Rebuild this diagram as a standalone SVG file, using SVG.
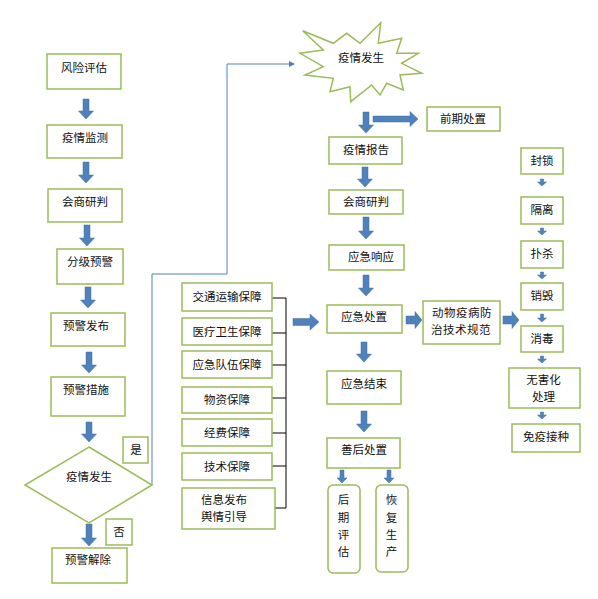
<svg xmlns="http://www.w3.org/2000/svg" width="598" height="599" viewBox="0 0 598 599">
<style>
.b{fill:#fff;stroke:#9BBB59;stroke-width:1.5}
.t{font-family:"Noto Sans CJK SC","Noto Sans",sans-serif;font-size:11.5px;fill:#111;text-anchor:middle}
.a{fill:#4F81BD;stroke:#41719C;stroke-width:0.5}
.k{fill:none;stroke:#000;stroke-width:1}
.c{fill:none;stroke:#4F81BD;stroke-width:1}
</style>
<defs>
<marker id="m" markerWidth="6" markerHeight="6" refX="5" refY="3" orient="auto" markerUnits="userSpaceOnUse">
<path d="M0,0 L6,3 L0,6 Z" fill="#4F81BD"/>
</marker>
</defs>
<rect width="598" height="599" fill="#fff"/>

<g id="connectors">
<path class="c" d="M152,485 V274 H227 V64 H294" marker-end="url(#m)"/>
<path class="k" d="M272,298 H286 M272,333 H286 M272,365 H286 M272,398 H286 M272,433 H286 M272,466 H286 M275,508 H286 M286,298 V508"/>
<path class="a" d="M83 99H89V111H93.5L86 119L78.5 111H83Z"/>
<path class="a" d="M83 162H89V175H93.5L86 183L78.5 175H83Z"/>
<path class="a" d="M84 225H90V238H94.5L87 246L79.5 238H84Z"/>
<path class="a" d="M85 287H91V300H95.5L88 308L80.5 300H85Z"/>
<path class="a" d="M86 352H92V365H96.5L89 373L81.5 365H86Z"/>
<path class="a" d="M86 422H92V434H96.5L89 442L81.5 434H86Z"/>
<path class="a" d="M86 524H92V538H96.5L89 546L81.5 538H86Z"/>
<path class="a" d="M363 112H369V125H373.5L366 133L358.5 125H363Z"/>
<path class="a" d="M362 167H368V179H372.5L365 187L357.5 179H362Z"/>
<path class="a" d="M363 217H369V231H373.5L366 239L358.5 231H363Z"/>
<path class="a" d="M363 275H369V288H373.5L366 296L358.5 288H363Z"/>
<path class="a" d="M361 342H367V354H371.5L364 362L356.5 354H361Z"/>
<path class="a" d="M361 411H367V424H371.5L364 432L356.5 424H361Z"/>
<path class="a" d="M340 470H344V478H347L342 483L337 478H340Z"/>
<path class="a" d="M387 470H391V478H394L389 483L384 478H387Z"/>
<path class="a" d="M540.5 179H543.5V182H546.5L542 186L537.5 182H540.5Z"/>
<path class="a" d="M540.5 228H543.5V231H546.5L542 235L537.5 231H540.5Z"/>
<path class="a" d="M540.5 272H543.5V275H546.5L542 279L537.5 275H540.5Z"/>
<path class="a" d="M540.5 314H543.5V318H546.5L542 322L537.5 318H540.5Z"/>
<path class="a" d="M540.5 356H543.5V359H546.5L542 363L537.5 359H540.5Z"/>
<path class="a" d="M540.5 412H543.5V415H546.5L542 419L537.5 415H540.5Z"/>
<path class="a" d="M373 116V122H410V126.5L418 119L410 111.5V116Z"/>
<path class="a" d="M293 318.5V325.5H310V330L319 322L310 314V318.5Z"/>
<path class="a" d="M406 316V324H415V328.5L422 320L415 311.5V316Z"/>
<path class="a" d="M503 316V324H512V328.5L519 320L512 311.5V316Z"/>
</g>

<g id="n-fxpg"><rect class="b" x="47" y="54" width="74" height="35"/><text class="t" x="84" y="72">风险评估</text></g>
<g id="n-yqjc"><rect class="b" x="47" y="125" width="75" height="33"/><text class="t" x="85" y="142">疫情监测</text></g>
<g id="n-hsyp1"><rect class="b" x="48" y="189" width="74" height="33"/><text class="t" x="85" y="206">会商研判</text></g>
<g id="n-fjyj"><rect class="b" x="57" y="249" width="66" height="35"/><text class="t" x="90" y="266">分级预警</text></g>
<g id="n-yjfb"><rect class="b" x="51" y="313" width="74" height="33"/><text class="t" x="86" y="330">预警发布</text></g>
<g id="n-yjcs"><rect class="b" x="51" y="377" width="74" height="39"/><text class="t" x="86" y="394">预警措施</text></g>
<g id="n-yqfs1"><polygon class="b" points="89,447 152,485 89,523 25,485"/><text class="t" x="89" y="481">疫情发生</text></g>
<g id="n-shi"><rect class="b" x="123" y="437" width="25" height="26"/><text class="t" x="136" y="454">是</text></g>
<g id="n-fou"><rect class="b" x="106" y="519" width="26" height="26"/><text class="t" x="119" y="536">否</text></g>
<g id="n-yjjc"><rect class="b" x="52" y="548" width="75" height="35"/><text class="t" x="88" y="564">预警解除</text></g>

<g id="n-jtys"><rect class="b" x="182" y="283" width="90" height="28"/><text class="t" x="227" y="301">交通运输保障</text></g>
<g id="n-ylws"><rect class="b" x="182" y="318" width="90" height="27"/><text class="t" x="227" y="336">医疗卫生保障</text></g>
<g id="n-yjdw"><rect class="b" x="182" y="351" width="90" height="27"/><text class="t" x="227" y="369">应急队伍保障</text></g>
<g id="n-wz"><rect class="b" x="182" y="387" width="90" height="26"/><text class="t" x="227" y="404">物资保障</text></g>
<g id="n-jf"><rect class="b" x="182" y="419" width="90" height="27"/><text class="t" x="227" y="437">经费保障</text></g>
<g id="n-js"><rect class="b" x="182" y="453" width="90" height="27"/><text class="t" x="227" y="471">技术保障</text></g>
<g id="n-xx"><rect class="b" x="182" y="488" width="93" height="41"/><text class="t" x="224" y="504">信息发布</text><text class="t" x="224" y="521">舆情引导</text></g>

<g id="n-yqfs2"><polygon fill="#fff" stroke="#9BBB59" stroke-width="1.5" stroke-linejoin="miter" points="302.7,30.7 333.3,43.3 346.7,33.3 360,43.3 380.7,22.7 378.3,43.3 401.7,38.3 396.7,53.3 418.3,53.3 401.7,63.3 421.7,73.3 400,75 403.3,90 386.7,83.3 380,95 371.7,85 350.7,101.7 350,86.7 330,91.7 333.3,78.3 305,75 323.3,66.7 300,53.3 323.3,50"/><text class="t" x="361" y="62">疫情发生</text></g>
<g id="n-qqcz"><rect class="b" x="427" y="107" width="73" height="24"/><text class="t" x="463" y="123">前期处置</text></g>
<g id="n-yqbg"><rect class="b" x="329" y="137" width="73" height="27"/><text class="t" x="366" y="154">疫情报告</text></g>
<g id="n-hsyp2"><rect class="b" x="329" y="190" width="74" height="24"/><text class="t" x="366" y="206">会商研判</text></g>
<g id="n-yjxy"><rect class="b" x="329" y="245" width="75" height="25"/><text class="t" x="371" y="261">应急响应</text></g>
<g id="n-yjcz"><rect class="b" x="327" y="305" width="75" height="28"/><text class="t" x="364" y="321">应急处置</text></g>
<g id="n-dwyb"><rect class="b" x="423" y="301" width="77" height="43"/><text class="t" x="462" y="317" letter-spacing="0.5">动物疫病防</text><text class="t" x="461" y="334" letter-spacing="0.5">治技术规范</text></g>
<g id="n-yjjs"><rect class="b" x="327" y="371" width="74" height="33"/><text class="t" x="364" y="388">应急结束</text></g>
<g id="n-shcz"><rect class="b" x="327" y="438" width="73" height="30"/><text class="t" x="364" y="454">善后处置</text></g>
<g id="n-hqpg"><rect class="b" x="328" y="485" width="32" height="88" rx="5"/><text class="t" x="343.5" y="504">后</text><text class="t" x="343.5" y="522">期</text><text class="t" x="343.5" y="539">评</text><text class="t" x="343.5" y="556">估</text></g>
<g id="n-hfsc"><rect class="b" x="376" y="485" width="32" height="87" rx="5"/><text class="t" x="391.5" y="504">恢</text><text class="t" x="391.5" y="522">复</text><text class="t" x="391.5" y="539">生</text><text class="t" x="391.5" y="556">产</text></g>

<g id="n-fs"><rect class="b" x="521" y="148" width="42" height="26"/><text class="t" x="542" y="165">封锁</text></g>
<g id="n-gl"><rect class="b" x="521" y="197" width="42" height="27"/><text class="t" x="542" y="214">隔离</text></g>
<g id="n-ps"><rect class="b" x="521" y="241" width="42" height="27"/><text class="t" x="542" y="258">扑杀</text></g>
<g id="n-xh"><rect class="b" x="521" y="283" width="42" height="27"/><text class="t" x="542" y="300">销毁</text></g>
<g id="n-xd"><rect class="b" x="521" y="326" width="42" height="26"/><text class="t" x="542" y="343">消毒</text></g>
<g id="n-whh"><rect class="b" x="509" y="368" width="71" height="40"/><text class="t" x="543.5" y="384">无害化</text><text class="t" x="543.5" y="401">处理</text></g>
<g id="n-myjz"><rect class="b" x="512" y="424" width="68" height="28"/><text class="t" x="546" y="441">免疫接种</text></g>
</svg>
